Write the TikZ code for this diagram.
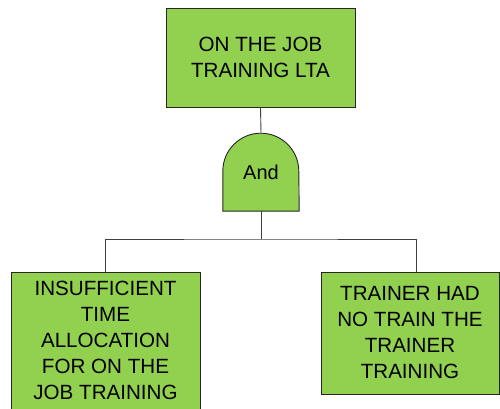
\documentclass[tikz,border=0pt]{standalone}
\usepackage{fontspec}
\setmainfont{Liberation Sans}
\begin{document}
\begin{tikzpicture}[x=1pt,y=1pt,
  event/.style={draw=black!85, line width=0.9pt, fill=leafgreen, inner sep=0pt,
    align=center, font=\fontsize{20.6}{26}\selectfont},
  wire/.style={draw=black!75, line width=0.9pt}]
  \definecolor{leafgreen}{HTML}{92D050}
  \useasboundingbox (0,0) rectangle (500,409);
  \clip (0,0) rectangle (500,409);

  % top event
  \node[event, minimum width=189pt, minimum height=99pt] (top) at (260.5,351.5)
    {ON THE JOB\\TRAINING LTA};

  % AND gate: flat bottom, rounded dome
  \node[inner sep=0pt, minimum width=76pt, minimum height=78pt,
        font=\fontsize{20}{24}\selectfont] (gate) at (261,237) {};
  \filldraw[draw=black!85, line width=0.9pt, fill=leafgreen]
    (gate.south west) -- ++(0,40) arc[start angle=180, end angle=0, radius=38pt]
    -- (gate.south east) -- cycle;
  \node[font=\fontsize{20}{24}\selectfont] (gatelabel) at (gate.center) {And};

  % basic events
  \node[event, minimum width=189pt, minimum height=137pt] (left) at (105.5,68.5)
    {INSUFFICIENT\\TIME\\ALLOCATION\\FOR ON THE\\JOB TRAINING};
  \node[event, minimum width=178pt, minimum height=122pt] (right) at (410,76)
    {\raisebox{4pt}{\parbox{170pt}{\centering TRAINER HAD\\NO TRAIN THE\\TRAINER\\TRAINING}}};

  % connectors
  \coordinate (bus) at (261,170);
  \coordinate (rdrop) at ([xshift=6pt]right.north);
  \draw[wire] (top.south) -- (gate.north);
  \draw[wire] (gate.south) -- (bus);
  \draw[wire] (left.north) |- (bus) -| (rdrop);
\end{tikzpicture}
\end{document}
